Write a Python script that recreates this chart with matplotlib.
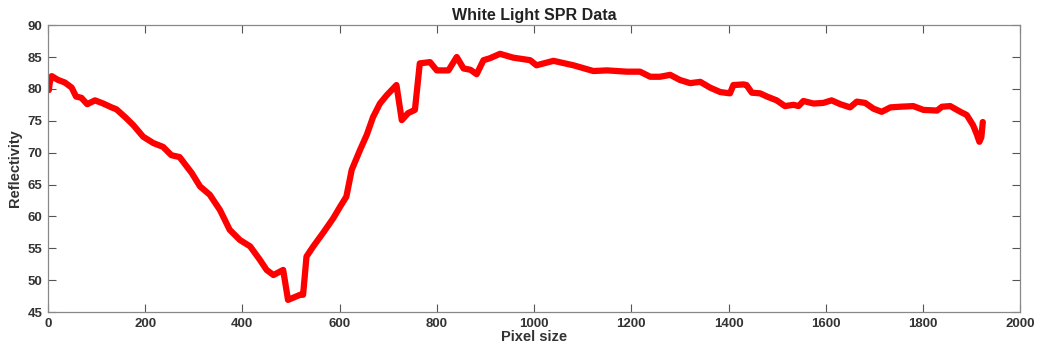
import matplotlib
matplotlib.use('Agg')
import matplotlib.pyplot as plt

DPI = 100

# values
pixel = [0, 2, 4, 8, 21, 35, 49, 58, 69, 81, 97, 114, 131, 141, 160, 176, 196,
         217, 237, 254, 271, 296, 313, 333, 354, 374, 395, 416, 436, 450, 464,
         484, 494, 519, 525, 532, 546, 566, 587, 601, 614, 625, 642, 656, 669,
         683, 697, 717, 728, 741, 755, 765, 786, 800, 824, 841, 855, 869, 882,
         896, 909, 930, 957, 992, 1005, 1040, 1081, 1122, 1150, 1191, 1218,
         1239, 1259, 1280, 1300, 1321, 1342, 1362, 1383, 1403, 1410, 1431, 1437,
         1448, 1465, 1479, 1499, 1516, 1534, 1544, 1554, 1575, 1595, 1612, 1630,
         1650, 1664, 1681, 1698, 1715, 1733, 1753, 1780, 1801, 1829, 1839, 1856,
         1877, 1890, 1903, 1910, 1916, 1920, 1923]
reflect = [80.8, 79.8, 81.0, 82.0, 81.4, 81.0, 80.2, 78.8, 78.6, 77.6, 78.2,
           77.7, 77.1, 76.8, 75.5, 74.3, 72.5, 71.5, 70.9, 69.6, 69.3, 66.8,
           64.7, 63.4, 61.0, 57.9, 56.3, 55.3, 53.2, 51.6, 50.8, 51.6, 46.9,
           47.7, 47.7, 53.7, 55.3, 57.4, 59.7, 61.5, 63.1, 67.3, 70.4, 72.8,
           75.6, 77.7, 79.0, 80.6, 75.1, 76.2, 76.7, 84.0, 84.2, 82.9, 82.9,
           85.0, 83.2, 83.0, 82.3, 84.5, 84.8, 85.5, 84.9, 84.5, 83.7, 84.4,
           83.7, 82.8, 82.9, 82.7, 82.7, 81.9, 81.9, 82.2, 81.4, 80.9, 81.1,
           80.2, 79.5, 79.3, 80.6, 80.7, 80.6, 79.4, 79.3, 78.8, 78.2, 77.3,
           77.5, 77.3, 78.1, 77.7, 77.8, 78.2, 77.6, 77.1, 78.0, 77.8, 76.9,
           76.4, 77.1, 77.2, 77.3, 76.7, 76.6, 77.2, 77.3, 76.4, 75.9, 74.3,
           73.0, 71.7, 72.4, 74.8]

xticks = [0, 200, 400, 600, 800, 1000, 1200, 1400, 1600, 1800, 2000]
yticks = [45, 50, 55, 60, 65, 70, 75, 80, 85, 90]

plt.rcParams['font.family'] = ['Liberation Sans', 'DejaVu Sans']
plt.rcParams['font.weight'] = 'bold'

fig = plt.figure(figsize=(1040/DPI, 349/DPI), dpi=DPI)
ax = fig.add_axes([0.046, 0.106, 0.935, 0.822])

ax.plot(pixel, reflect, color='red', linewidth=4.5, solid_joinstyle='round',
        solid_capstyle='round')

ax.set_xlim(0, 2000)
ax.set_ylim(45, 90)
ax.set_xticks(xticks)
ax.set_yticks(yticks)
ax.tick_params(direction='in', length=6, width=0.8, color='#555555',
               labelcolor='#333333', labelsize=9.5, top=True, right=True, pad=4)
for lab in ax.get_xticklabels() + ax.get_yticklabels():
    lab.set_fontweight('bold')
for s in ax.spines.values():
    s.set_color('#888888')
    s.set_linewidth(0.9)

ax.set_title('White Light SPR Data', fontsize=11.5, fontweight='bold',
             color='#222222', pad=4)
ax.set_xlabel('Pixel size', fontsize=10.5, fontweight='bold', color='#333333',
              labelpad=0)
ax.set_ylabel('Reflectivity', fontsize=10.5, fontweight='bold', color='#333333',
              labelpad=4)

fig.savefig('out.png', dpi=DPI)
